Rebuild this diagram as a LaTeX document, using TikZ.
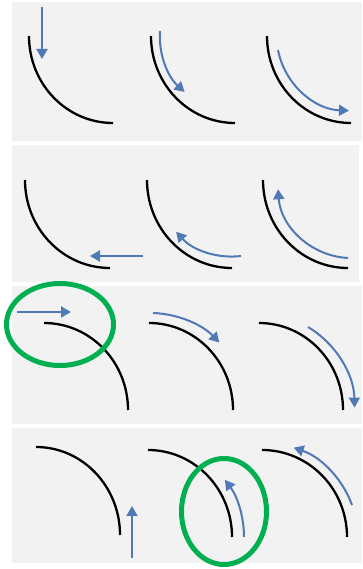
\documentclass[tikz,border=0pt]{standalone}
\usetikzlibrary{arrows.meta}
\definecolor{panelgray}{HTML}{F2F2F2}
\definecolor{flowblue}{HTML}{5079B6}
\definecolor{ringgreen}{HTML}{00B050}
\begin{document}
\begin{tikzpicture}[x=1pt,y=1pt,
  wall/.style={line width=2.3pt},
  flow/.style={flowblue,line width=2pt,-{Triangle[width=11pt,length=10pt]}},
  ring/.style={ringgreen,line width=5pt}]
\useasboundingbox (0,0) rectangle (362,569);
\fill[panelgray] (12,428) rectangle (362,567);
\fill[panelgray] (12,287) rectangle (359,424);
\fill[panelgray] (12,145) rectangle (362,283);
\fill[panelgray] (12,6) rectangle (362,141);

\draw[wall] (29,533) arc[start angle=180,end angle=270,x radius=84,y radius=87];
\draw[wall] (151,533) arc[start angle=180,end angle=270,x radius=84,y radius=87];
\draw[wall] (267,533) arc[start angle=180,end angle=270,x radius=84,y radius=87];
\draw[flow] (42,562) -- (42,510);
\draw[flow] (160,538) arc[start angle=176,end angle=228,radius=75];
\draw[flow] (278,519) arc[start angle=191,end angle=268,radius=75];

\draw[wall] (25,389) arc[start angle=180,end angle=270,x radius=85,y radius=88];
\draw[wall] (147,389) arc[start angle=180,end angle=270,x radius=85,y radius=88];
\draw[wall] (263,389) arc[start angle=180,end angle=270,x radius=85,y radius=88];
\draw[flow] (143,313) -- (90,313);
\draw[flow] (241,313) arc[start angle=277,end angle=222,radius=75];
\draw[flow] (348,311) arc[start angle=267,end angle=184,radius=74];

\draw[wall] (44,246) arc[start angle=90,end angle=0,x radius=84,y radius=87];
\draw[wall] (149,246) arc[start angle=90,end angle=0,x radius=84,y radius=87];
\draw[wall] (259,246) arc[start angle=90,end angle=0,x radius=84,y radius=87];
\draw[flow] (17,257) -- (71,257);
\draw[flow] (153,256) arc[start angle=88,end angle=44,radius=97];
\draw[flow] (308,242) arc[start angle=59,end angle=1,radius=96];

\draw[wall] (36,122) arc[start angle=90,end angle=0,x radius=84,y radius=88];
\draw[wall] (148,119) arc[start angle=90,end angle=0,x radius=84,y radius=87];
\draw[wall] (262,119) arc[start angle=90,end angle=0,x radius=85,y radius=87];
\draw[flow] (132,11) -- (132,63);
\draw[flow] (244,32) arc[start angle=0,end angle=37,radius=95];
\draw[flow] (352,64) arc[start angle=20,end angle=71,radius=95];

\draw[ring] (60,244.5) ellipse[x radius=53.5,y radius=41];
\draw[ring] (224,57.5) ellipse[x radius=42.5,y radius=53];
\end{tikzpicture}
\end{document}
